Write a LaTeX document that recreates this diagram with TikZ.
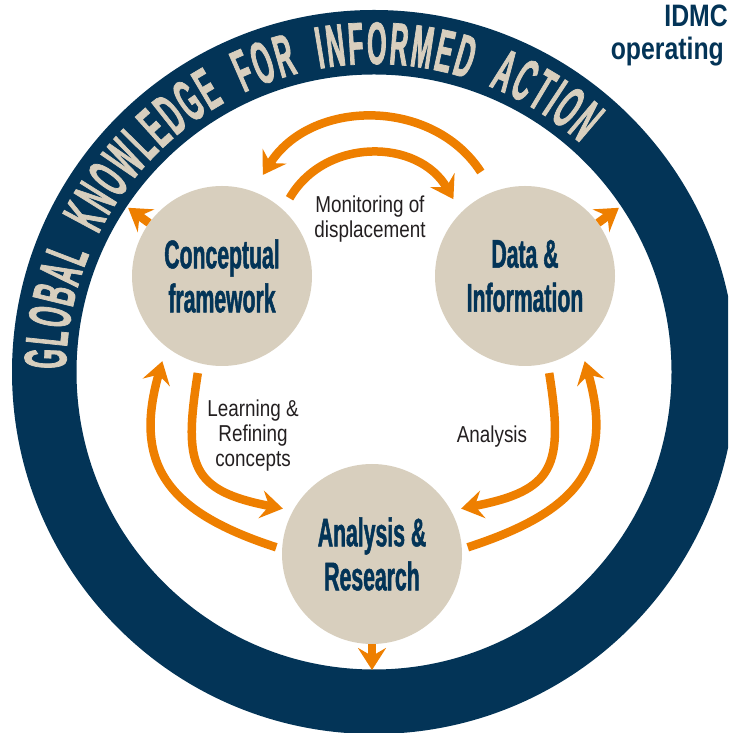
\documentclass[tikz,border=0pt]{standalone}
\usepackage{fontspec}
\usepackage{tikz}
\usetikzlibrary{arrows.meta,decorations.text}

\setmainfont{Liberation Sans}
\newfontfamily\hubfont[FakeStretch=0.53,FakeBold=1.2]{Liberation Sans Bold}
\newfontfamily\ringfont[FakeStretch=0.42,FakeBold=1.2,WordSpace=2.4]{Liberation Sans Bold}
\newfontfamily\notefont[FakeStretch=0.82]{Liberation Sans}
\newfontfamily\headfont[FakeStretch=0.8]{Liberation Sans Bold}
\newcommand{\ringtype}{\ringfont\fontsize{60}{60}\selectfont}

\definecolor{navy}{HTML}{033457}
\definecolor{sand}{HTML}{D8CFBE}
\definecolor{flame}{HTML}{EE7F00}
\definecolor{ink}{HTML}{231F20}

\begin{document}
\begin{tikzpicture}[x=1pt,y=1pt,
  hub/.style={circle,fill=sand,minimum size=180pt,inner sep=0pt,align=center,
    text=navy,font=\hubfont\fontsize{40}{44}\selectfont},
  note/.style={align=center,text=ink,font=\notefont\fontsize{23}{25}\selectfont},
  head/.style={text=navy,inner sep=0pt,font=\headfont\fontsize{31}{33}\selectfont},
  flow/.style={draw=flame,line width=8.5pt,-{Stealth[length=22pt,width=28pt,inset=8pt]}}]
\useasboundingbox (0,0) rectangle (728,733);
\clip (0,0) rectangle (728,733);

% band round the cycle
\coordinate (ring) at (374,361);
\fill[navy,even odd rule] (ring) circle[radius=362] (ring) circle[radius=297.5];
\path[font=\ringtype,decorate,decoration={text along path,text align=fit to path,text color=sand,
    text={|\ringtype|GLOBAL KNOWLEDGE FOR INFORMED ACTION}}]
  ([shift={(179.5:308)}]ring) arc[start angle=179.5,end angle=48,radius=308];

% the three stages
\node[hub] (cf) at (222,457) {Conceptual\\framework};
\node[hub] (di) at (525,457) {Data \&\\Information};
\node[hub] (ar) at (372,179) {Analysis \&\\Research};

\node[note] (mon) at (370,514) {Monitoring of\\displacement};
\node[note] (learn) at (253,297) {Learning \&\\Refining\\concepts};
\node[note] (ana) at (492,296) {Analysis};

\node[head,anchor=base east] (idmc) at (728,706) {IDMC};
\node[head,anchor=base east] (oper) at (724,673) {operating};

% top pair
\draw[flow] ([shift={(113:113)}]di.center) to[out=123,in=58,looseness=1.05] ([shift={(68:109)}]cf.center);
\draw[flow] ([shift={(49:103)}]cf.center) to[out=60,in=120,looseness=1.1] ([shift={(133:105)}]di.center);
% left pair
\draw[flow] ([shift={(176:96)}]ar.center) to[out=162,in=254,looseness=1.3] ([shift={(235:104)}]cf.center);
\draw[flow] ([shift={(256:100)}]cf.center) to[out=261,in=169,looseness=1.5] ([shift={(153:100)}]ar.center);
% right pair
\draw[flow] ([shift={(4:96)}]ar.center) to[out=18,in=286,looseness=1.3] ([shift={(305:104)}]di.center);
\draw[flow] ([shift={(284:100)}]di.center) to[out=279,in=11,looseness=1.5] ([shift={(27:100)}]ar.center);

% outward arrows
\coordinate (cf out) at ([shift={(144:116)}]cf.center);
\coordinate (di out) at ([shift={(36:116)}]di.center);
\coordinate (ar out) at ([shift={(270:116)}]ar.center);
\draw[flow] (cf.144) -- (cf out);
\draw[flow] (di.36) -- (di out);
\draw[flow] (ar.south) -- (ar out);
\end{tikzpicture}
\end{document}
